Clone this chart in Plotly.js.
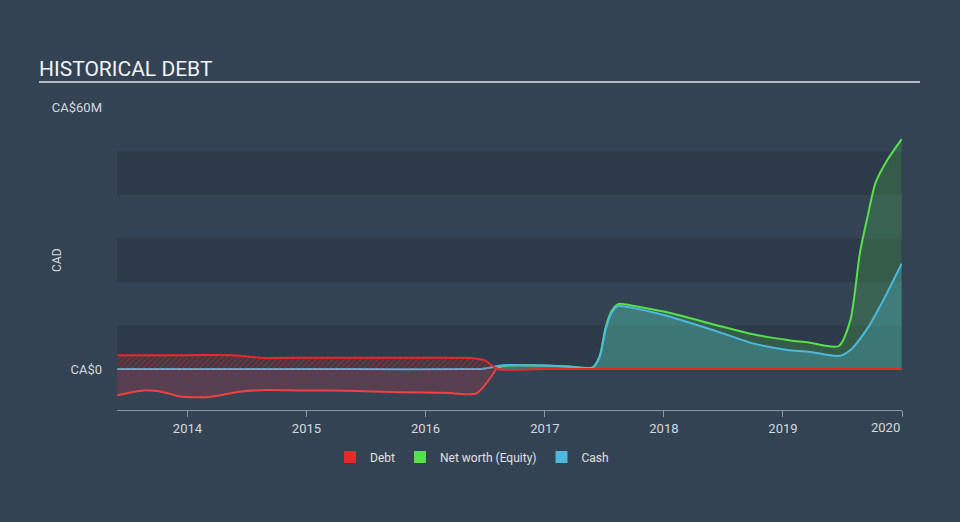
<!DOCTYPE html>
<html>
<head>
<meta charset="utf-8">
<script src="https://cdn.plot.ly/plotly-3.0.1.min.js"></script>
<style>html,body{margin:0;padding:0;background:#344354;}#chart{width:960px;height:522px;}</style>
</head>
<body>
<div id="chart"></div>
<script>
// ---- data (CA$ millions) ----
const debtDates = ['2013-05-31','2013-12-31','2014-05-20','2014-08-10','2015-01-01','2015-08-01','2016-03-01','2016-05-25','2016-07-01','2016-08-10','2017-01-01','2018-01-01','2019-01-01','2019-12-31'];
const debtValues = [3.2,3.2,3.2,2.6,2.6,2.6,2.6,2.5,2.0,0,0,0,0,0];

const netWorthDates = ['2013-05-31','2013-08-20','2013-10-20','2013-12-10','2014-03-10','2014-06-10','2014-09-01','2014-12-15','2015-05-10','2015-10-10','2016-03-15','2016-06-05','2016-08-05',
  '2016-08-25','2016-10-16','2017-01-01','2017-03-15','2017-05-27','2017-06-18','2017-07-06','2017-07-24','2017-08-11','2017-08-22','2017-10-01','2018-01-01','2018-07-01','2018-10-01','2019-01-15','2019-03-21','2019-06-21','2019-07-27','2019-08-25','2019-09-20','2019-10-12','2019-11-17','2019-12-31'];
const netWorthValues = [-6.0,-4.9,-5.3,-6.3,-6.4,-5.2,-4.8,-4.9,-5.0,-5.3,-5.5,-5.6,0,
  0.7,0.9,0.8,0.6,0.4,3.0,9.5,13.3,14.8,15.0,14.5,13.2,9.7,8.0,6.7,6.1,5.3,11.3,26.7,35.9,42.8,48.0,52.8];

const cashDates = ['2013-05-31','2014-06-01','2015-06-01','2016-05-01','2016-06-25','2016-08-25','2016-10-16','2017-01-01','2017-03-15','2017-05-27','2017-06-18','2017-07-06','2017-07-24','2017-08-11','2017-08-22','2017-10-01','2018-01-01','2018-07-01','2018-10-01','2019-01-15','2019-03-21','2019-06-21','2019-07-27','2019-09-20','2019-11-10','2019-12-31'];
const cashValues = [0,0,0,0,0.1,0.9,0.9,0.8,0.6,0.3,2.8,9.0,12.9,14.4,14.5,14.0,12.4,8.2,5.9,4.4,4.0,3.0,4.4,9.7,16.6,24.2];

const yearTicks = ['2014-01-01','2015-01-01','2016-01-01','2017-01-01','2018-01-01','2019-01-01','2020-01-01'];
const yearLabels = ['2014','2015','2016','2017','2018','2019','2020'];
const yTickVals = [0, 60];
const yTickText = ['CA$0', 'CA$60M'];
const bandStarts = [0, 20, 40];
const bandSize = 10;

// split net worth into negative (red) and positive (green) parts at the zero point
const zeroIdx = netWorthValues.indexOf(0);
const nwNegX = netWorthDates.slice(0, zeroIdx + 1), nwNegY = netWorthValues.slice(0, zeroIdx + 1);
const nwPosX = netWorthDates.slice(zeroIdx), nwPosY = netWorthValues.slice(zeroIdx);

const RED = '#e8292c', GREEN = '#55e04c', BLUE = '#4cb9dc';
const sm = 0.7;

const traces = [
  {x: nwNegX, y: nwNegY, type: 'scatter', mode: 'lines', line: {color: '#ee4045', width: 2, shape: 'spline', smoothing: sm},
   fill: 'tozeroy', fillcolor: 'rgba(232,50,60,0.2)', showlegend: false, hoverinfo: 'skip'},
  {x: nwPosX, y: nwPosY, type: 'scatter', mode: 'lines', line: {color: GREEN, width: 2, shape: 'spline', smoothing: sm},
   fill: 'tozeroy', fillcolor: 'rgba(85,224,76,0.2)', showlegend: false, hoverinfo: 'skip'},
  {x: cashDates, y: cashValues, type: 'scatter', mode: 'lines', line: {color: BLUE, width: 2, shape: 'spline', smoothing: sm},
   fill: 'tozeroy', fillcolor: 'rgba(76,185,220,0.3)', showlegend: false, hoverinfo: 'skip'},
  {x: debtDates, y: debtValues, type: 'scatter', mode: 'lines', line: {color: RED, width: 2, shape: 'spline', smoothing: sm},
   fill: 'tozeroy', fillcolor: 'rgba(0,0,0,0)', fillpattern: {shape: '/', fgcolor: 'rgba(232,41,44,0.75)', bgcolor: 'rgba(232,41,44,0.12)', size: 4, solidity: 0.2},
   showlegend: false, hoverinfo: 'skip'},
  // legend-only entries
  {x: [null], y: [null], type: 'scatter', mode: 'markers', name: 'Debt', marker: {symbol: 'square', size: 12, color: RED}},
  {x: [null], y: [null], type: 'scatter', mode: 'markers', name: 'Net worth (Equity)', marker: {symbol: 'square', size: 12, color: GREEN}},
  {x: [null], y: [null], type: 'scatter', mode: 'markers', name: 'Cash', marker: {symbol: 'square', size: 12, color: BLUE}}
];

const shapes = bandStarts.map(b => ({type: 'rect', xref: 'paper', yref: 'y', x0: 0, x1: 1, y0: b, y1: b + bandSize,
  fillcolor: '#2d3a49', line: {width: 0}, layer: 'below'}));
shapes.push({type: 'line', xref: 'paper', yref: 'paper', x0: -0.0994, x1: 1.0229, y0: 1.058, y1: 1.058, line: {color: '#b4bac2', width: 2}});

const layout = {
  width: 960, height: 522,
  paper_bgcolor: '#344354', plot_bgcolor: '#344354',
  margin: {l: 117, r: 58, t: 100, b: 112},
  font: {family: 'Roboto, sans-serif', color: '#d4d8dc', size: 12},
  title: {text: 'HISTORICAL DEBT', xref: 'container', yref: 'container', x: 39/960, xanchor: 'left', y: 1 - 69/522, yanchor: 'middle',
    font: {family: 'Roboto, sans-serif', size: 21, color: '#f2f2f2'}},
  xaxis: {type: 'date', range: ['2013-05-30', '2020-01-01'], tickvals: yearTicks, ticktext: yearLabels.map((t, i) => i === yearLabels.length - 1 ? '' : t),
    showgrid: false, zeroline: false, showline: true, linecolor: '#8a96a4', linewidth: 1, ticks: 'outside', ticklen: 6, tickcolor: '#8a96a4',
    tickfont: {size: 13, color: '#d4d8dc'}, fixedrange: true},
  yaxis: {range: [-9.4, 61.8], tickvals: yTickVals, ticktext: yTickText, showgrid: false, zeroline: false, showline: false, ticks: '',
    ticklabelstandoff: 14, tickfont: {size: 13, color: '#d4d8dc'}, fixedrange: true},
  shapes: shapes,
  annotations: [
    {text: 'CAD', xref: 'paper', yref: 'paper', x: (57 - 117) / 785, y: (410 - 260) / 310, textangle: -90, showarrow: false,
     font: {size: 12, color: '#d4d8dc'}, xanchor: 'center', yanchor: 'middle'},
    {text: yearLabels[yearLabels.length - 1], xref: 'x', yref: 'paper', x: yearTicks[yearTicks.length - 1], y: 0, yshift: -8, xanchor: 'right', yanchor: 'top',
     showarrow: false, font: {size: 13, color: '#d4d8dc'}}
  ],
  legend: {orientation: 'h', x: (472 - 117) / 785, xanchor: 'center', y: (410 - 457) / 310, yanchor: 'middle',
    font: {size: 12, color: '#e0e0e0'}, bgcolor: 'rgba(0,0,0,0)', itemclick: false},
  showlegend: true, hovermode: false
};

Plotly.newPlot('chart', traces, layout, {displayModeBar: false, staticPlot: true});
</script>
</body>
</html>
